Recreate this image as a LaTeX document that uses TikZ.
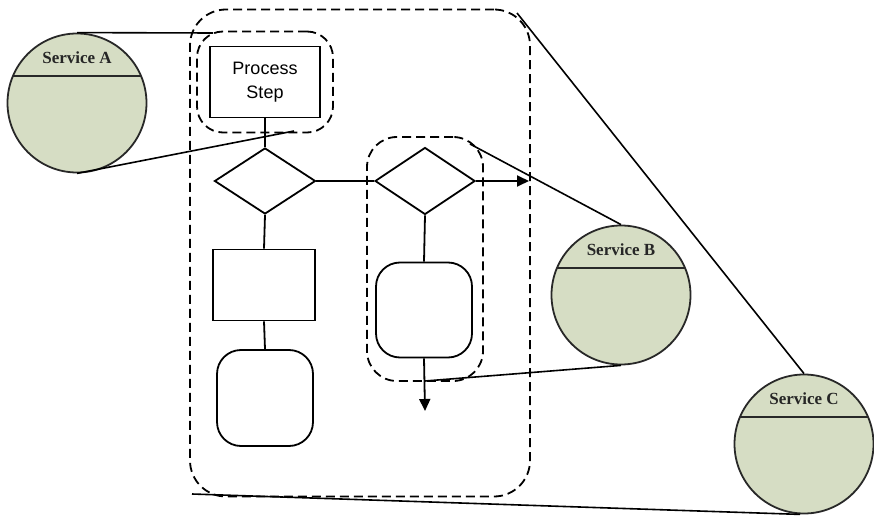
\documentclass[tikz,border=0pt]{standalone}
\usepackage{fontspec}
\setmainfont{Liberation Serif}
\newfontfamily\arialfont{Liberation Sans}
\usetikzlibrary{shapes.geometric,arrows.meta,calc}
\definecolor{svcfill}{RGB}{214,221,196}
\definecolor{svcline}{RGB}{40,40,40}
\tikzset{
  flow/.style={draw=black, line width=1.8pt},
  procbox/.style={flow, rectangle, inner sep=0pt, fill=white},
  roundbox/.style={flow, rectangle, rounded corners=24pt, inner sep=0pt, fill=white},
  decision/.style={flow, diamond, inner sep=0pt, fill=white},
  grp/.style={draw=black, line width=1.8pt, dash pattern=on 9pt off 5pt, rectangle, inner sep=0pt},
  svc/.style={draw=svcline, line width=1.8pt, circle, fill=svcfill, minimum size=139pt, inner sep=0pt},
  svclabel/.style={font=\fontsize{17}{19}\selectfont\bfseries, text=black!85},
  link/.style={draw=black, line width=1.6pt},
  arr/.style={flow, -{Triangle[length=12pt,width=11pt]}}
}
\begin{document}
\begin{tikzpicture}[x=1pt,y=-1pt]
\useasboundingbox (0,0) rectangle (874,518);
% groups
\node[grp, rounded corners=36pt, minimum width=340pt, minimum height=487pt] (gC) at (360,253) {};
\node[grp, rounded corners=26pt, minimum width=136pt, minimum height=101pt] (gA) at (265,82) {};
\node[grp, rounded corners=30pt, minimum width=116pt, minimum height=244pt] (gB) at (425,259) {};
% flow shapes
\node[procbox, minimum width=110pt, minimum height=71pt, font=\arialfont\fontsize{18}{24}\selectfont, align=center] (ps) at (265,82) {Process\\Step};
\node[decision, minimum width=101pt, minimum height=66pt, aspect=1.53] (d1) at (265,181) {};
\node[decision, minimum width=100pt, minimum height=67pt, aspect=1.49] (d2) at (425,181) {};
\node[procbox, minimum width=102pt, minimum height=71pt] (r1) at (264,285) {};
\node[roundbox, minimum width=96pt, minimum height=96pt] (rr1) at (265,398) {};
\node[roundbox, minimum width=96pt, minimum height=95pt] (rr2) at (424,310) {};
\coordinate (outR) at (529,181);
\coordinate (outD) at (425,411);
\draw[flow] (ps.south) -- (d1.north);
\draw[flow] (d1.east) -- (d2.west);
\draw[arr] (d2.east) -- (outR);
\draw[flow] (d1.south) -- (r1.north);
\draw[flow] (r1.south) -- (rr1.north);
\draw[flow] (d2.south) -- (rr2.north);
\draw[arr] (rr2.south) -- (outD);
% services
\node[svc] (cA) at (77,103) {};
\node[svc] (cB) at (621,295) {};
\node[svc] (cC) at (804,444) {};
\foreach \c/\t in {cA/Service A, cB/Service B, cC/Service C}{
  \draw[draw=svcline, line width=2.2pt] ($(\c.center)+(-64,-27)$) -- ($(\c.center)+(64,-27)$);
  \node[svclabel] (\c lbl) at ($(\c.center)+(0,-45)$) {\t};
}
% connectors
\coordinate (a1) at (213,33);
\coordinate (a2) at (294,131);
\coordinate (b1) at (470,144);
\coordinate (b2) at (425,381);
\coordinate (c1) at (517,13);
\coordinate (c2) at (192,494);
\draw[link] (cA.north) -- (a1);
\draw[link] (cA.south) -- (a2);
\draw[link] (b1) -- (cB.north);
\draw[link] (b2) -- (cB.south);
\draw[link] (c1) -- (cC.north);
\draw[link] (c2) -- ($(cC.south)+(-4,0)$);
\end{tikzpicture}
\end{document}
